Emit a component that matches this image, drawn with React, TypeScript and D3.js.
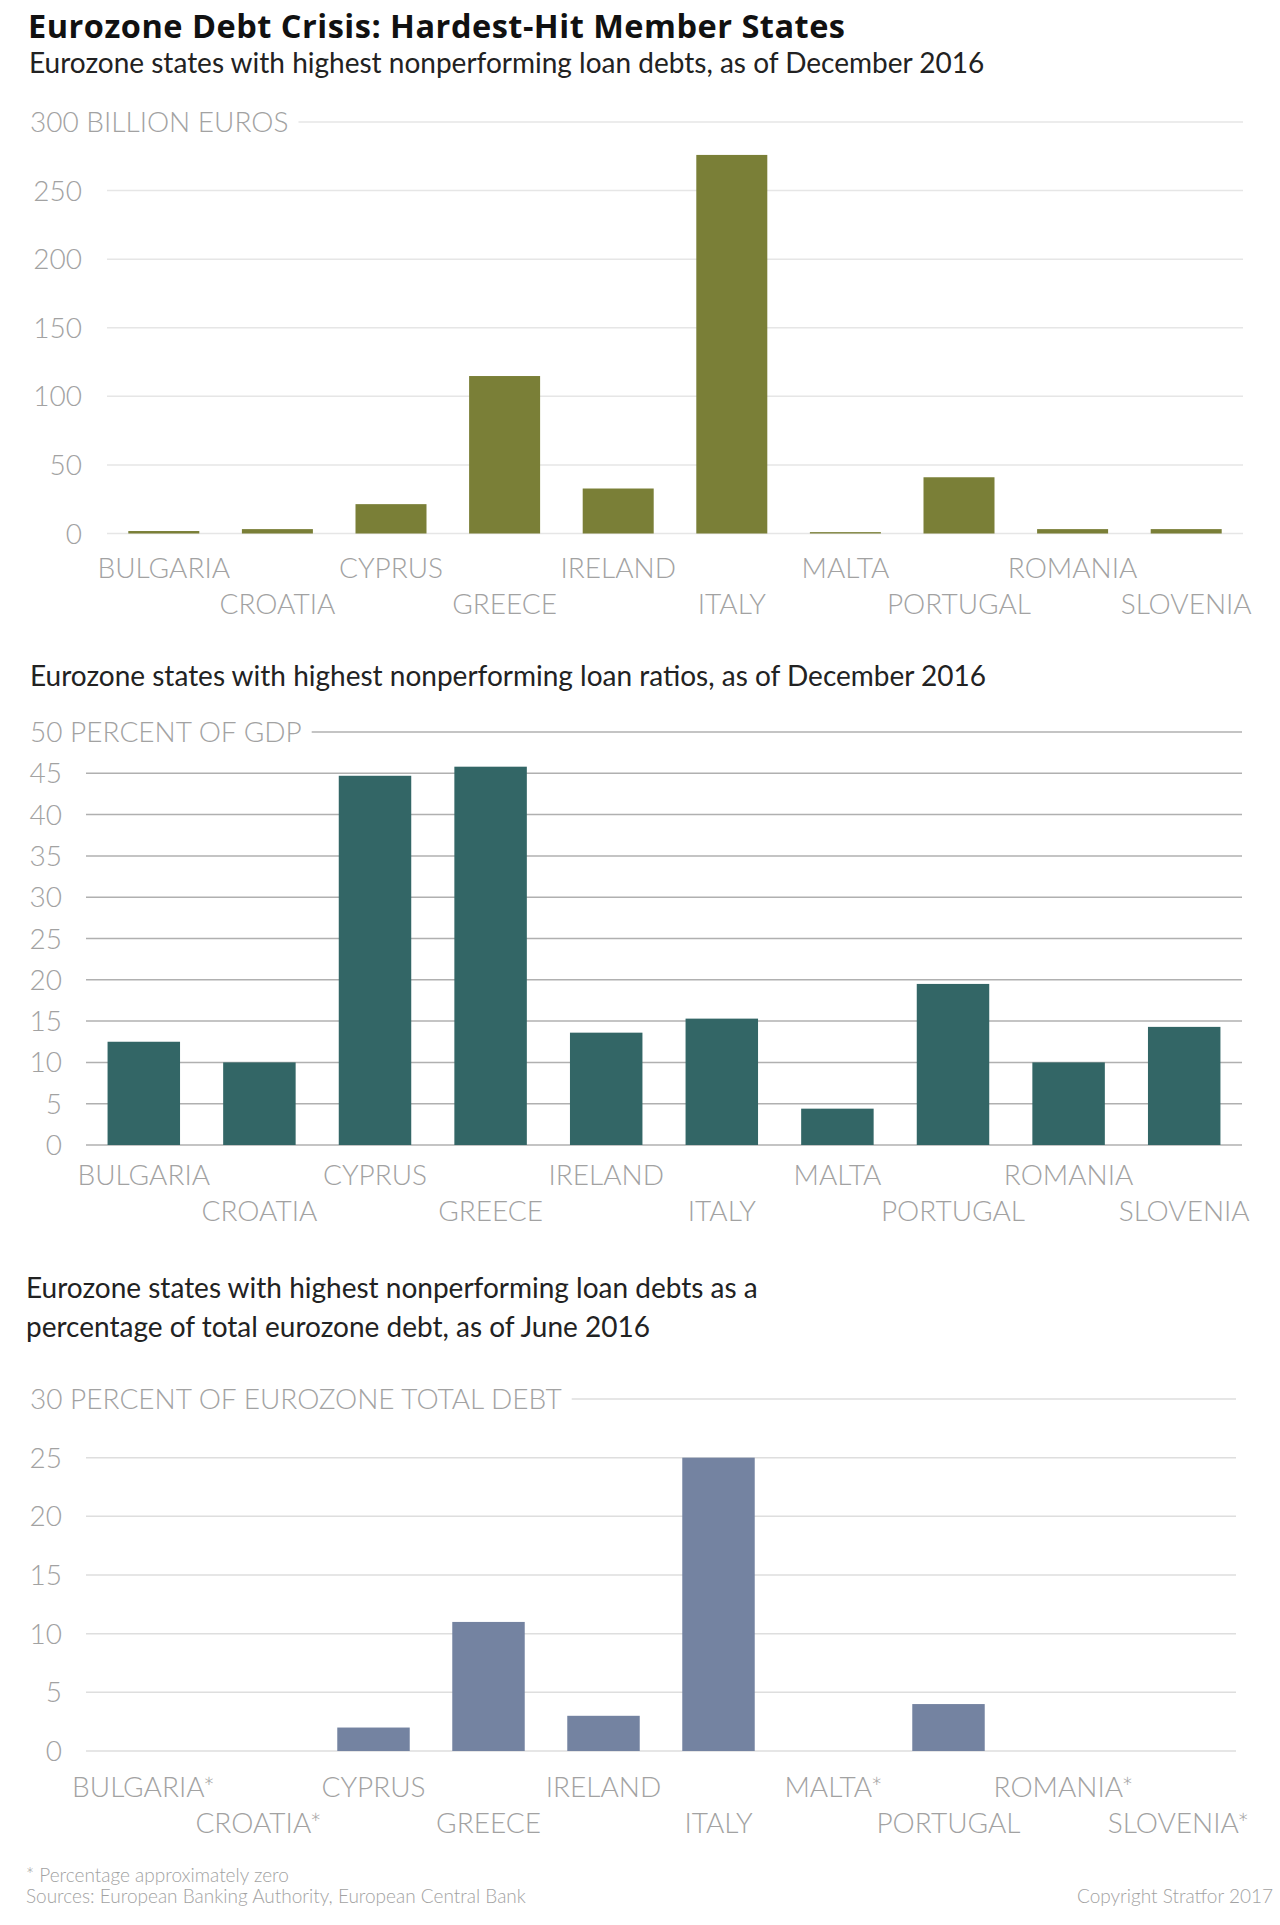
import React, { useLayoutEffect, useRef, useState } from "react";
import { range, scaleBand, scaleLinear } from "d3";

const countries = [
  "BULGARIA",
  "CROATIA",
  "CYPRUS",
  "GREECE",
  "IRELAND",
  "ITALY",
  "MALTA",
  "PORTUGAL",
  "ROMANIA",
  "SLOVENIA",
];

// nonperforming loans, billion euros, December 2016
const npeBillions = [1.8, 3.2, 21.4, 114.8, 32.8, 276, 1, 41, 3.2, 3.2];
// nonperforming loans, percent of GDP, December 2016
const npeRatioPct = [12.5, 10, 44.7, 45.8, 13.6, 15.3, 4.4, 19.5, 10, 14.3];
// share of total eurozone nonperforming debt, June 2016
const npeSharePct = [0, 0, 2, 11, 3, 25, 0, 4, 0, 0];
const shareLabels = [
  "BULGARIA*",
  "CROATIA*",
  "CYPRUS",
  "GREECE",
  "IRELAND",
  "ITALY",
  "MALTA*",
  "PORTUGAL",
  "ROMANIA*",
  "SLOVENIA*",
];

const W = 1280;
const H = 1925;
const LABEL_FONT = "Lato, 'Open Sans', sans-serif";
const GRAY = "#a2a2a2";

type PanelProps = {
  labels: string[];
  values: number[];
  color: string;
  yMax: number;
  yStep: number;
  topLabel: string;
  yTop: number;
  yZero: number;
  x0: number;
  x1: number;
  gridColor: string;
  tickRight: number;
  labelGap: number;
  padding: number;
};

const BarPanel = ({
  labels,
  values,
  color,
  yMax,
  yStep,
  topLabel,
  yTop,
  yZero,
  x0,
  x1,
  gridColor,
  tickRight,
  labelGap,
  padding,
}: PanelProps) => {
  const titleRef = useRef<SVGTextElement>(null);
  const [titleEnd, setTitleEnd] = useState(300);

  useLayoutEffect(() => {
    if (titleRef.current) {
      const b = titleRef.current.getBBox();
      setTitleEnd(b.x + b.width);
    }
  }, [topLabel]);

  const x = scaleBand<string>()
    .domain(labels)
    .range([x0, x1])
    .paddingInner(padding)
    .paddingOuter(padding / 2);
  const y = scaleLinear().domain([0, yMax]).range([yZero, yTop]);
  const ticks = range(0, yMax, yStep);

  return (
    <g>
      {ticks.map((t) => (
        <g key={t}>
          <line
            x1={x0}
            x2={x1}
            y1={y(t)}
            y2={y(t)}
            stroke={gridColor}
            strokeWidth={1.5}
          />
          <text
            x={tickRight}
            y={y(t)}
            dy="0.36em"
            textAnchor="end"
            fill={GRAY}
            fontSize={28}
            fontWeight={300}
            fontFamily={LABEL_FONT}
          >
            {t}
          </text>
        </g>
      ))}
      <line
        x1={titleEnd + 10}
        x2={x1}
        y1={y(yMax)}
        y2={y(yMax)}
        stroke={gridColor}
        strokeWidth={1.5}
      />
      <text
        ref={titleRef}
        x={30}
        y={y(yMax)}
        dy="0.36em"
        fill={GRAY}
        fontSize={28}
        fontWeight={300}
        fontFamily={LABEL_FONT}
      >
        {topLabel}
      </text>
      {values.map((v, i) => (
        <rect
          key={labels[i]}
          x={x(labels[i])}
          y={y(v)}
          width={x.bandwidth()}
          height={yZero - y(v)}
          fill={color}
        />
      ))}
      {labels.map((l, i) => (
        <text
          key={l}
          x={(x(l) ?? 0) + x.bandwidth() / 2}
          y={yZero + labelGap + (i % 2) * 36}
          textAnchor="middle"
          fill={GRAY}
          fontSize={28}
          fontWeight={300}
          fontFamily={LABEL_FONT}
        >
          {l}
        </text>
      ))}
    </g>
  );
};

const App = () => {
  return (
    <svg
      width={W}
      height={H}
      viewBox={`0 0 ${W} ${H}`}
      style={{ position: "absolute", left: 0, top: 0, background: "#fff" }}
    >
      <rect width={W} height={H} fill="#fff" />
      <text
        x={28}
        y={38}
        fontFamily="'Open Sans', Lato, sans-serif"
        fontWeight={700}
        fontSize={32.5}
        letterSpacing={0.5}
        fill="#111"
      >
        Eurozone Debt Crisis: Hardest-Hit Member States
      </text>
      <text x={29} y={73} fontFamily={LABEL_FONT} fontSize={28} fill="#222">
        Eurozone states with highest nonperforming loan debts, as of December
        2016
      </text>

      <BarPanel
        labels={countries}
        values={npeBillions}
        color="#7a7f37"
        yMax={300}
        yStep={50}
        topLabel="300 BILLION EUROS"
        yTop={122}
        yZero={533.5}
        x0={107}
        x1={1243}
        gridColor="#e6e6e6"
        tickRight={82}
        labelGap={44}
        padding={0.375}
      />

      <text x={30} y={686} fontFamily={LABEL_FONT} fontSize={28} fill="#222">
        Eurozone states with highest nonperforming loan ratios, as of December
        2016
      </text>

      <BarPanel
        labels={countries}
        values={npeRatioPct}
        color="#336666"
        yMax={50}
        yStep={5}
        topLabel="50 PERCENT OF GDP"
        yTop={732}
        yZero={1145}
        x0={86}
        x1={1242}
        gridColor="#b0b0b0"
        tickRight={62}
        labelGap={40}
        padding={0.373}
      />

      <text x={26} y={1298} fontFamily={LABEL_FONT} fontSize={28} fill="#222">
        Eurozone states with highest nonperforming loan debts as a
      </text>
      <text x={26} y={1337} fontFamily={LABEL_FONT} fontSize={28} fill="#222">
        percentage of total eurozone debt, as of June 2016
      </text>

      <BarPanel
        labels={shareLabels}
        values={npeSharePct}
        color="#7483a1"
        yMax={30}
        yStep={5}
        topLabel="30 PERCENT OF EUROZONE TOTAL DEBT"
        yTop={1399}
        yZero={1751}
        x0={86}
        x1={1236}
        gridColor="#dedede"
        tickRight={62}
        labelGap={46}
        padding={0.37}
      />

      <text
        x={26}
        y={1882}
        fontFamily={LABEL_FONT}
        fontWeight={300}
        fontSize={19}
        fill={GRAY}
      >
        * Percentage approximately zero
      </text>
      <text
        x={26}
        y={1903}
        fontFamily={LABEL_FONT}
        fontWeight={300}
        fontSize={19}
        fill={GRAY}
      >
        Sources: European Banking Authority, European Central Bank
      </text>
      <text
        x={1273}
        y={1903}
        textAnchor="end"
        fontFamily={LABEL_FONT}
        fontWeight={300}
        fontSize={19}
        fill={GRAY}
      >
        Copyright Stratfor 2017
      </text>
    </svg>
  );
};

export default App;
